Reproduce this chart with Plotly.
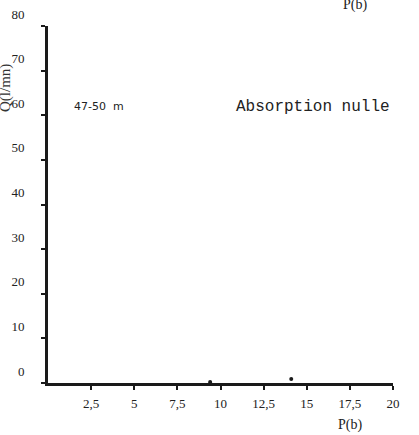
import plotly.graph_objects as go

# Data
x_ticks = [2.5, 5, 7.5, 10, 12.5, 15, 17.5, 20]
x_tick_labels = ["2,5", "5", "7,5", "10", "12,5", "15", "17,5", "20"]
y_ticks = [0, 10, 20, 30, 40, 50, 60, 70, 80]
y_tick_labels = ["0", "10", "20", "30", "40", "50", "60", "70", "80"]
point_p = [9.4, 14.1]
point_q = [0.2, 0.9]
depth_label = "47-50&nbsp;&nbsp;m"
absorption_label = "Absorption nulle"
x_title = "P(b)"
y_title = "Q(l/mn)"

serif = "Liberation Serif"
ink = "#1a1a1a"

W, H = 419, 435
PL, PR, PT, PB = 48, 393, 26, 383  # plot area in window pixels
pw, ph = PR - PL, PB - PT


def px(x):
    return (x - PL) / pw


def py(y):
    return (PB - y) / ph


fig = go.Figure()
fig.add_trace(go.Scatter(
    x=point_p, y=point_q, mode="markers",
    marker=dict(size=4, color=ink), showlegend=False, hoverinfo="skip",
))

fig.update_layout(
    width=W, height=H,
    margin=dict(l=PL, r=W - PR, t=PT, b=H - PB, autoexpand=False),
    paper_bgcolor="white", plot_bgcolor="white",
    showlegend=False,
    xaxis=dict(
        range=[0, 20], tickvals=x_ticks, ticktext=x_tick_labels,
        showgrid=False, zeroline=False, automargin=False,
        showline=True, linecolor=ink, linewidth=3,
        ticks="outside", ticklen=4, tickwidth=2, tickcolor=ink,
        ticklabelstandoff=2, ticklabeloverflow="allow",
        tickfont=dict(family=serif, size=13, color="#222"),
        fixedrange=True,
    ),
    yaxis=dict(
        range=[0, 80], tickvals=y_ticks, ticktext=y_tick_labels,
        showgrid=False, zeroline=False, automargin=False,
        showline=True, linecolor=ink, linewidth=3,
        ticks="outside", ticklen=4, tickwidth=2, tickcolor=ink,
        ticklabelstandoff=14, ticklabelshift=-12, ticklabeloverflow="allow",
        tickfont=dict(family=serif, size=13, color="#222"),
        fixedrange=True,
    ),
    annotations=[
        dict(text=depth_label, xref="paper", yref="paper",
             x=px(72), y=py(107),
             xanchor="left", yanchor="middle", showarrow=False,
             font=dict(family="DejaVu Sans", size=11, color="#222")),
        dict(text=absorption_label, xref="paper", yref="paper",
             x=px(234), y=py(107),
             xanchor="left", yanchor="middle", showarrow=False,
             font=dict(family="Liberation Mono", size=16, color="#222")),
        dict(text=x_title, xref="paper", yref="paper",
             x=px(350), y=py(425),
             xanchor="center", yanchor="middle", showarrow=False,
             font=dict(family=serif, size=14, color="#222")),
        dict(text=x_title, xref="paper", yref="paper",
             x=px(355), y=py(5),
             xanchor="center", yanchor="middle", showarrow=False,
             font=dict(family=serif, size=14, color="#222")),
        dict(text=y_title, xref="paper", yref="paper",
             x=px(5), y=py(88),
             xanchor="center", yanchor="middle", showarrow=False,
             textangle=-90,
             font=dict(family=serif, size=15, color="#333")),
    ],
)

fig.write_html("out.html", config={"displayModeBar": False},
               post_script="document.body.style.margin='0';")
